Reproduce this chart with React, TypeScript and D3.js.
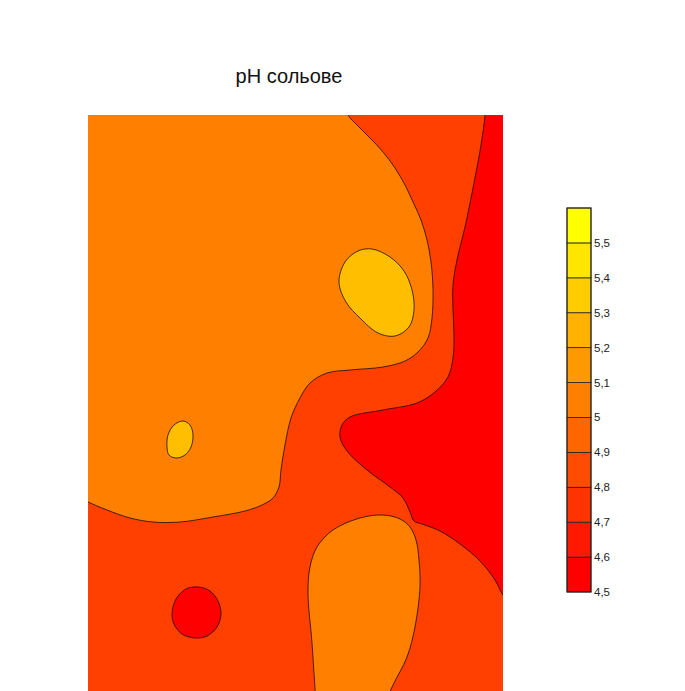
import React from "react";
import * as d3 from "d3";

// map coordinates (plot units), contours
// ph class of each region = lower bound of its interval (step 0.25)
const baseLevel = 4.75;

const orangeBigLevel = 5.0;
const orangeBig: [number, number][] = [
  [257, -10], [260, 0], [270, 11], [282, 23], [295, 37], [307, 53], [317, 70],
  [325, 87], [333, 105], [339, 125], [343, 147], [345, 175], [344, 203],
  [340, 223], [330, 237], [317, 246], [295, 252], [262, 255], [239, 258],
  [222, 268], [212, 283], [203, 303], [197, 330], [193, 355], [191, 372],
  [185, 383], [174, 390], [157, 396], [125, 402], [92, 407], [65, 407],
  [42, 403], [19, 395], [0, 387], [-10, 382],
];
const orangeBigCorners: [number, number][] = [[-10, -10]];

const redRightLevel = 4.5;
const redRight: [number, number][] = [
  [397, -10], [397, 0], [393, 30], [386, 68], [377, 112], [369, 145],
  [365, 170], [365, 195], [366, 220], [365, 243], [360, 262], [347, 277],
  [329, 288], [295, 295], [262, 302], [254, 310], [252, 322], [259, 336],
  [279, 355], [302, 372], [315, 383], [322, 397], [326, 406], [334, 409],
  [352, 416], [372, 429], [392, 446], [407, 465], [415, 480], [425, 490],
];
const redRightCorners: [number, number][] = [[425, -10]];

const orangeBottomLevel = 5.0;
const orangeBottom: [number, number][] = [
  [228, 590], [224, 528], [220, 478], [222, 452], [229, 432], [245, 415],
  [272, 403], [295, 400], [312, 404], [322, 412], [328, 425], [331, 445],
  [332, 472], [327, 512], [319, 542], [305, 570], [296, 590],
];

const goldBigLevel = 5.25;
const goldBig: [number, number][] = [
  [251, 167], [257, 147], [270, 136], [284, 134], [302, 142], [316, 156],
  [324, 175], [326, 195], [321, 212], [307, 221], [290, 218], [272, 203],
  [258, 187],
];

const goldSmallLevel = 5.25;
const goldSmall: [number, number][] = [
  [79, 332], [80, 320], [86, 310], [95, 306], [102, 310], [105, 320],
  [103, 332], [97, 340], [88, 343], [81, 340],
];

const redSpotLevel = 4.5;
const redSpot: [number, number][] = [
  [84, 499], [88, 484], [98, 474], [110, 472], [122, 476], [130, 486],
  [133, 499], [129, 512], [119, 521], [107, 523], [94, 519], [86, 509],
];

// legend
const barLevels = [4.5, 4.6, 4.7, 4.8, 4.9, 5.0, 5.1, 5.2, 5.3, 5.4, 5.5, 5.6];
const barTicks = [4.5, 4.6, 4.7, 4.8, 4.9, 5.0, 5.1, 5.2, 5.3, 5.4, 5.5];
const barTickLabels = ["4,5", "4,6", "4,7", "4,8", "4,9", "5", "5,1", "5,2", "5,3", "5,4", "5,5"];

const title = "pH сольове";

const W = 685;
const H = 691;
const font = "'Liberation Sans', Arial, sans-serif";

export default function App() {
  const x = d3.scaleLinear().domain([0, 415]).range([88, 503]);
  const y = d3.scaleLinear().domain([0, 576]).range([115, 691]);
  const color = d3
    .scaleLinear<string>()
    .domain([4.5, 5.5])
    .range(["#ff0000", "#ffff00"])
    .interpolate(d3.interpolateRgb);

  const openLine = d3
    .line<[number, number]>()
    .x((d) => x(d[0]))
    .y((d) => y(d[1]))
    .curve(d3.curveCatmullRom.alpha(0.5));
  const closedLine = d3
    .line<[number, number]>()
    .x((d) => x(d[0]))
    .y((d) => y(d[1]))
    .curve(d3.curveCatmullRomClosed.alpha(0.5));

  const openPath = (pts: [number, number][], corners: [number, number][]) =>
    (openLine(pts) || "") +
    corners.map((c) => `L${x(c[0])},${y(c[1])}`).join("") +
    "Z";

  const regions = [
    { d: openPath(orangeBig, orangeBigCorners), level: orangeBigLevel },
    { d: openPath(orangeBottom, []), level: orangeBottomLevel },
    { d: openPath(redRight, redRightCorners), level: redRightLevel },
    { d: closedLine(goldBig) || "", level: goldBigLevel },
    { d: closedLine(goldSmall) || "", level: goldSmallLevel },
    { d: closedLine(redSpot) || "", level: redSpotLevel },
  ];

  // colour bar
  const by = d3.scaleLinear().domain([4.5, 5.6]).range([592, 208]);
  const bx0 = 567;
  const bx1 = 591;

  const [x0, x1] = x.range();
  const [y0, y1] = y.range();

  return (
    <svg
      width={W}
      height={H}
      style={{ position: "absolute", left: 0, top: 0, background: "#fff" }}
    >
      <defs>
        <clipPath id="plot">
          <rect x={x0} y={y0} width={x1 - x0} height={y1 - y0} />
        </clipPath>
      </defs>

      <text
        x={289}
        y={83}
        textAnchor="middle"
        fontFamily={font}
        fontSize={20}
        fill="#111"
      >
        {title}
      </text>

      <g clipPath="url(#plot)">
        <rect x={x0} y={y0} width={x1 - x0} height={y1 - y0} fill={color(baseLevel)} />
        {regions.map((r, i) => (
          <path
            key={i}
            d={r.d}
            fill={color(r.level)}
            stroke="#1a0a00"
            strokeWidth={0.8}
          />
        ))}
      </g>

      <g>
        {barLevels.slice(0, -1).map((lv, i) => (
          <rect
            key={i}
            x={bx0}
            y={by(barLevels[i + 1])}
            width={bx1 - bx0}
            height={by(lv) - by(barLevels[i + 1])}
            fill={color(lv)}
            stroke="#222"
            strokeWidth={0.8}
          />
        ))}
        <rect
          x={bx0}
          y={by(5.6)}
          width={bx1 - bx0}
          height={by(4.5) - by(5.6)}
          fill="none"
          stroke="#222"
          strokeWidth={1}
        />
        {barTicks.map((t, i) => (
          <text
            key={t}
            x={bx1 + 3}
            y={by(t)}
            dy="0.35em"
            fontFamily={font}
            fontSize={11.5}
            fill="#222"
          >
            {barTickLabels[i]}
          </text>
        ))}
      </g>
    </svg>
  );
}
